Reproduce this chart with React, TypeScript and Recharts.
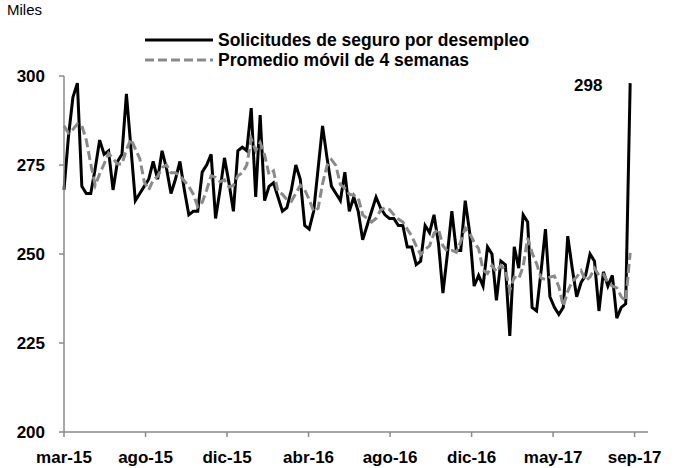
import React from 'react';
import { LineChart, Line, XAxis, YAxis } from 'recharts';

// semanas desde el 28-mar-2015 hasta el 2-sep-2017
const claims = [
	268, 283, 294, 298, 269, 267, 267, 274, 282, 278, 279, 268, 276, 278, 295, 280,
	265, 267, 269, 271, 276, 271, 279, 274, 267, 271, 276, 268, 261, 262, 262, 273,
	275, 278, 260, 268, 277, 270, 262, 279, 280, 279, 291, 266, 289, 265, 269, 270,
	266, 262, 263, 268, 275, 271, 258, 257, 262, 274, 286, 277, 269, 267, 265, 273,
	262, 266, 262, 254, 258, 262, 266, 263, 261, 260, 260, 258, 258, 252, 252, 247,
	248, 258, 256, 261, 253, 239, 250, 262, 251, 251, 265, 256, 241, 244, 241, 252,
	250, 237, 248, 247, 227, 252, 246, 261, 259, 235, 234, 245, 257, 238, 235, 233,
	235, 255, 246, 238, 242, 244, 250, 248, 234, 245, 241, 244, 232, 235, 236, 298,
];

const movingAvg = [
	286, 284, 285, 286.5, 286, 282, 275.3, 269.3, 272.5, 275.3, 278.3, 276.8, 275.3, 275.3, 279.3, 282.3,
	279.5, 276.8, 270.3, 268, 270.8, 271.8, 274.3, 275, 272.8, 272.8, 272, 270.5, 269, 266.8, 263.3, 264.5,
	268, 272, 271.5, 270.3, 270.8, 268.8, 269.3, 272, 272.8, 275, 282.3, 279, 281.3, 277.8, 272.3, 273.3,
	267.5, 266.8, 265.3, 264.8, 267, 269.3, 268, 265.3, 262, 262.8, 269.8, 274.8, 276.5, 274.8, 269.5, 268.5,
	266.8, 266.5, 265.8, 261, 260, 259, 260, 262.3, 263, 262.5, 261, 259.8, 259, 257, 255, 252.3,
	249.8, 251.3, 252.3, 255.8, 257, 252.3, 250.8, 251, 250.5, 253.5, 257.3, 255.8, 253.3, 251.5, 245.5, 244.5,
	246.8, 245, 246.8, 245.5, 239.8, 243.5, 243, 246.5, 254.5, 250.3, 247.3, 243.3, 242.8, 243.5, 243.8, 240.8,
	235.3, 239.5, 242.3, 243.5, 245.3, 242.5, 243.5, 246, 244, 244.3, 242, 241, 240.5, 238, 236.8, 250.3,
];

const tickWeeks = [0, 18.29, 36.57, 54.86, 73.14, 91.43, 109.71, 128];
const tickLabels = ['mar-15', 'ago-15', 'dic-15', 'abr-16', 'ago-16', 'dic-16', 'may-17', 'sep-17'];
const yTicks = [200, 225, 250, 275, 300];

const seriesNames = ['Solicitudes de seguro por desempleo', 'Promedio móvil de 4 semanas'];

const font = '"Liberation Sans Narrow", "Arial Narrow", "Liberation Sans", Arial, sans-serif';

const data = claims.map((v, i) => ({ week: i, claims: v, avg: movingAvg[i] }));

function LegendBox() {
	return (
		<svg width={420} height={44} style={{ position: 'absolute', left: 140, top: 30 }}>
			<line x1={5} x2={73} y1={10} y2={10} stroke="#000" strokeWidth={3} />
			<text x={78} y={10} dy="0.35em" fontFamily={font} fontWeight="bold" fontSize={17.5} fill="#000">{seriesNames[0]}</text>
			<line x1={5} x2={73} y1={30} y2={30} stroke="#8a8a8a" strokeWidth={3} strokeDasharray="9 4" />
			<text x={78} y={30} dy="0.35em" fontFamily={font} fontWeight="bold" fontSize={17.5} fill="#000">{seriesNames[1]}</text>
		</svg>
	);
}

function LastLabel(props: any) {
	const { x, y, index } = props;
	if (index !== claims.length - 1) return null;
	return (
		<text x={x - 42} y={y + 3} textAnchor="middle" dominantBaseline="middle" fontFamily={font} fontWeight="bold" fontSize={17} fill="#000">
			{claims[claims.length - 1]}
		</text>
	);
}

export default function App() {
	return (
		<div style={{ position: 'relative', width: 677, height: 468, background: '#fff' }}>
			<style>{'body{margin:0}'}</style>
			<LineChart width={677} height={468} data={data} margin={{ top: 76, right: 29, left: 0, bottom: 6 }}>
				<XAxis
					type="number"
					dataKey="week"
					domain={[0, 131]}
					ticks={tickWeeks}
					tickFormatter={(v: number, i: number) => tickLabels[i]}
					interval={0}
					height={30}
					stroke="#8a8a8a"
					strokeWidth={1.5}
					tickSize={5}
					tickMargin={14}
					tick={{ fill: '#000', fontFamily: font, fontWeight: 'bold', fontSize: 17 }}
				/>
				<YAxis
					domain={[200, 300]}
					ticks={yTicks}
					width={64}
					stroke="#8a8a8a"
					strokeWidth={1.5}
					tickSize={5}
					tickMargin={14}
					tick={{ fill: '#000', fontFamily: font, fontWeight: 'bold', fontSize: 17 }}
				/>
				<Line
					type="linear"
					dataKey="claims"
					stroke="#000"
					strokeWidth={3}
					dot={false}
					isAnimationActive={false}
					label={<LastLabel />}
				/>
				<Line
					type="linear"
					dataKey="avg"
					stroke="#8a8a8a"
					strokeWidth={3}
					strokeDasharray="9 4"
					dot={false}
					isAnimationActive={false}
				/>
			</LineChart>
			<div style={{ position: 'absolute', left: 7, top: 1, fontFamily: font, fontSize: 15, color: '#000' }}>Miles</div>
			<LegendBox />
		</div>
	);
}
